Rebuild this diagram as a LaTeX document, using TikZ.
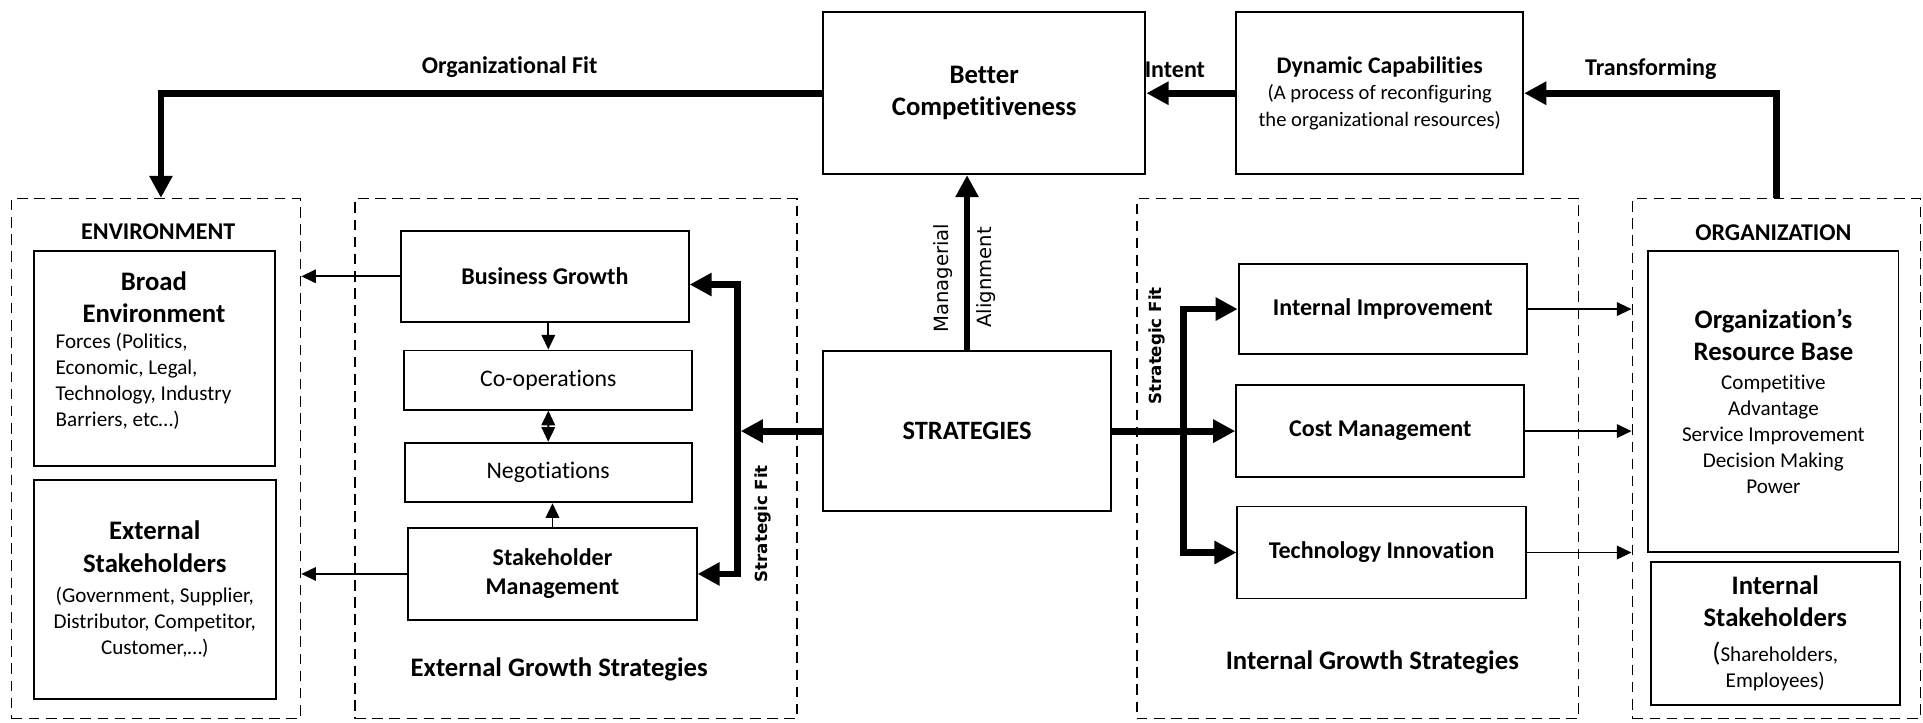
\documentclass[tikz,border=0pt]{standalone}
\usepackage{fontspec}
\setmainfont{Carlito}[Ligatures=NoCommon]
\newfontfamily\verafont{DejaVu Sans}
\usepackage{tikz}
\usetikzlibrary{arrows.meta}
\newcommand\hdf{\fontsize{10.9}{13}\selectfont\bfseries}
\newcommand\bxf{\fontsize{9.8}{11.8}\selectfont\bfseries}
\newcommand\txf{\fontsize{8.6}{10.6}\selectfont}
\tikzset{
  box/.style ={draw,line width=0.8pt,inner sep=0pt,align=center},
  grp/.style ={draw,line width=0.65pt,dash pattern=on 4.3pt off 2.7pt,inner sep=0pt},
  tag/.style ={inner sep=0pt,font=\bxf},
  rot/.style ={inner sep=0pt,rotate=90},
  ar/.style  ={-{Triangle[length=6pt,width=5.5pt]},line width=0.8pt},
  dar/.style ={{Triangle[length=6pt,width=5.5pt]}-{Triangle[length=6pt,width=5.5pt]},line width=0.8pt},
  bar/.style ={-{Triangle[length=9pt,width=9pt]},line width=2.8pt},
}
\begin{document}
\begin{tikzpicture}[x=0.5pt,y=-0.5pt]
  \useasboundingbox (0,0) rectangle (1568,589);
  % dashed groups
  \node[grp,minimum width=117.75pt,minimum height=212pt] (env)  at (127.25,374) {};
  \node[grp,minimum width=180.25pt,minimum height=212pt] (extg) at (469.75,374) {};
  \node[grp,minimum width=180pt,minimum height=212pt]    (intg) at (1107,374) {};
  \node[grp,minimum width=117.5pt,minimum height=212pt]  (org)  at (1448.5,374) {};
  \node[tag] (envlbl) at (129,189) {ENVIRONMENT};
  \node[tag] (orglbl) at (1446,190) {ORGANIZATION};
  \node[tag,font=\hdf] (extlbl) at (456,546) {External Growth Strategies};
  \node[tag,font=\hdf] (intlbl) at (1119,540) {Internal Growth Strategies};
  % top row
  \node[box,font=\hdf,minimum width=131.5pt,minimum height=66pt] (bc) at (802.5,76) {Better\\Competitiveness};
  \node[box,font=\fontsize{8.4}{10.9}\selectfont,minimum width=117pt,minimum height=66pt] (dc) at (1125,76)
    {{\fontsize{9.7}{10.9}\selectfont\bfseries Dynamic Capabilities}\\(A process of reconfiguring\\the organizational resources)};
  \node[box,font=\fontsize{10.8}{13}\selectfont\bfseries,minimum width=117.5pt,minimum height=65.5pt] (strat) at (788.5,351.5) {STRATEGIES};
  % environment
  \node[box,minimum width=98.4pt,minimum height=87.5pt] (broad) at (126,292.5) {};
  \node[inner sep=0pt,font=\hdf,align=center] (broadttl) at (125.5,242) {Broad\\Environment};
  \node[inner sep=0pt,font=\txf,align=left,anchor=west] (broadtxt) at (45,311)
    {Forces (Politics,\\Economic, Legal,\\Technology, Industry\\Barriers, etc…)};
  \node[box,font=\txf,minimum width=98.5pt,minimum height=89.5pt] (exst) at (126.2,480.5)
    {{\hdf External}\\[2.7pt]{\hdf Stakeholders}\\[1.6pt](Government, Supplier,\\Distributor, Competitor,\\Customer,…)};
  % external growth
  \node[box,font=\bxf,minimum width=117.25pt,minimum height=37.3pt] (bg) at (444.25,225.3) {Business Growth};
  \node[box,font=\fontsize{9.7}{11.8}\selectfont,minimum width=117.4pt,minimum height=24.1pt] (coop) at (447.1,309.9) {Co-operations};
  \node[box,font=\fontsize{9.7}{11.8}\selectfont,minimum width=117pt,minimum height=24.25pt] (neg) at (447,385.25) {Negotiations};
  \node[box,font=\bxf,minimum width=117.5pt,minimum height=37.5pt] (stm) at (450.5,468) {Stakeholder\\Management};
  % internal growth
  \node[box,font=\bxf,minimum width=117.5pt,minimum height=37pt] (ii) at (1127.5,252) {Internal Improvement};
  \node[box,font=\bxf,minimum width=117.5pt,minimum height=37.5pt] (cm) at (1125.5,351.5) {Cost Management};
  \node[box,font=\bxf,minimum width=117.5pt,minimum height=37.5pt] (ti) at (1126.5,450.5) {Technology Innovation};
  % organization
  \node[box,font=\txf,minimum width=102pt,minimum height=122.5pt] (rb) at (1446,327.5)
    {{\hdf Organization’s}\\[2.4pt]{\hdf Resource Base}\\[1.4pt]Competitive\\Advantage\\Service Improvement\\Decision Making\\Power};
  \node[box,font=\txf,minimum width=101.5pt,minimum height=58.5pt] (ist) at (1447.5,516.5)
    {{\hdf Internal}\\[2.6pt]{\hdf Stakeholders}\\[3.6pt]{\fontsize{10.9}{13}\selectfont(}Shareholders,\\Employees)};
  % edge labels
  \node[tag] (fitlbl) at (415.5,55) {Organizational Fit};
  \node[tag] (intentlbl) at (958,57) {Intent};
  \node[tag] (translbl) at (1346,56) {Transforming};
  \node[rot,font=\verafont\fontsize{8}{10}\selectfont] (mgrlbl) at (769,227) {Managerial};
  \node[rot,font=\verafont\fontsize{8}{10}\selectfont] (alnlbl) at (804,226) {Alignment};
  \node[rot,font=\verafont\fontsize{6.8}{8}\selectfont\bfseries] (sfr) at (943,282) {Strategic Fit};
  \node[rot,font=\verafont\fontsize{6.8}{8}\selectfont\bfseries] (sfl) at (622.5,427) {Strategic Fit};
  % connectors
  \draw[bar] (bc.west) -| ([xshift=2pt]env.north);
  \draw[bar] (dc.west) -- (bc.east);
  \draw[bar] (org.north) |- (dc.east);
  \draw[bar] (strat.north) -- (strat.north |- bc.south);
  \coordinate (lj) at (601,351.5);
  \coordinate (lt) at (601,232);
  \draw[bar] (strat.west) -- ([xshift=1.5pt]lj);
  \draw[bar] (lj) -- (lt) -- (bg.east |- lt);
  \draw[bar] (lj) |- (stm.east);
  \coordinate (rj) at (965,351.5);
  \draw[bar] (strat.east) -- (cm.west);
  \draw[bar] (rj) |- (ii.west);
  \draw[bar] (rj) |- (ti.west);
  \draw[ar] (bg.west) -- (bg.west -| env.east);
  \draw[ar] (stm.west) -- (stm.west -| env.east);
  \draw[ar] (coop.north |- bg.south) -- (coop.north);
  \draw[dar] (coop.south) -- (neg.north);
  \draw[ar] (stm.north) -- (stm.north |- neg.south);
  \draw[ar] (ii.east) -- (ii.east -| org.west);
  \draw[ar] (cm.east) -- (cm.east -| org.west);
  \draw[ar] (ti.east) -- (ti.east -| org.west);
\end{tikzpicture}
\end{document}
